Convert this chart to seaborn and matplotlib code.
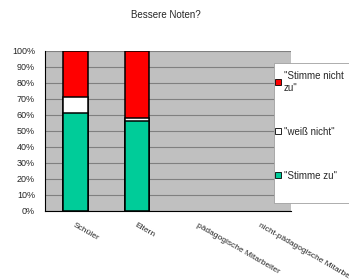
import matplotlib
matplotlib.use("Agg")
import matplotlib.pyplot as plt
import seaborn as sns
import pandas as pd
from matplotlib.patches import Patch, Rectangle
from matplotlib.ticker import PercentFormatter

categories = ["Schüler", "Eltern", "pädagogische Mitarbeiter", "nicht-pädagogische Mitarbeiter"]
groups = ["Schüler", "Eltern"]
stimme_zu = [61, 56]
weiss_nicht = [10, 2]
stimme_nicht_zu = [29, 42]
series_labels = ['"Stimme nicht\nzu"', '"weiß nicht"', '"Stimme zu"']
colors = {"zu": "#00cc99", "weiss": "#ffffff", "nicht": "#ff0000"}

df = pd.DataFrame({"cat": groups, "zu": stimme_zu, "weiss": weiss_nicht, "nicht": stimme_nicht_zu})
df["c1"] = df["zu"]
df["c2"] = df["zu"] + df["weiss"]
df["c3"] = df["c2"] + df["nicht"]

sns.set_style("white")
plt.rcParams["font.family"] = ["Liberation Sans", "DejaVu Sans"]

fig = plt.figure(figsize=(3.49, 2.79), dpi=100)
ax = fig.add_axes([44.7/349, 1-210.7/279, (291-44.7)/349, (210.7-50.7)/279])
ax.set_facecolor("#c0c0c0")

for col, key in [("c3", "nicht"), ("c2", "weiss"), ("c1", "zu")]:
    sns.barplot(data=df, x="cat", y=col, order=categories, color=colors[key],
                saturation=1, width=0.4, edgecolor="black", linewidth=1.1, ax=ax, zorder=3)

ax.set_ylim(0, 100)
ax.set_xlim(-0.5, 3.5)
ax.set_yticks(range(0, 101, 10))
ax.yaxis.set_major_formatter(PercentFormatter(decimals=0))
ax.yaxis.grid(True, color="#808080", linewidth=0.8, zorder=0)
ax.set_axisbelow(True)
for s in ["top", "right"]:
    ax.spines[s].set_visible(False)
ax.spines["left"].set_color("black")
ax.spines["bottom"].set_color("black")
ax.spines["left"].set_linewidth(0.8)
ax.spines["bottom"].set_linewidth(0.8)
ax.set_xlabel("")
ax.set_ylabel("")
ax.tick_params(axis="y", labelsize=6.5, length=3, pad=4, color="black")
ax.set_xticks([0, 1, 2, 3])
ax.set_xticks([-0.5, 0.5, 1.5, 2.5, 3.5], minor=True)
ax.tick_params(axis="x", which="major", length=0, pad=8)
ax.tick_params(axis="x", which="minor", length=3, color="black")
ax.set_xticklabels(categories, rotation=-30, ha="left", va="top",
                   rotation_mode="anchor", fontsize=6)

fig.text(166/349, 1-15/279, "Bessere Noten?", ha="center", va="center", fontsize=7)

# legend frame
fig.patches.append(Rectangle((274/349, 1-203/279), 80/349, 140/279,
                             transform=fig.transFigure, facecolor="white",
                             edgecolor="#a0a0a0", linewidth=0.6, zorder=5))

handles = [Patch(facecolor=colors["nicht"], edgecolor="black", linewidth=0.6),
           Patch(facecolor=colors["weiss"], edgecolor="black", linewidth=0.6),
           Patch(facecolor=colors["zu"], edgecolor="black", linewidth=0.6)]
leg = fig.legend(handles, series_labels, loc="upper left",
                 bbox_to_anchor=(275/349, 1-71/279), fontsize=7,
                 handlelength=0.6, handleheight=0.6, handletextpad=0.3,
                 labelspacing=3.5, borderpad=0.0, frameon=False,
                 borderaxespad=0)
leg.set_zorder(6)

fig.savefig("out.png", dpi=100)
